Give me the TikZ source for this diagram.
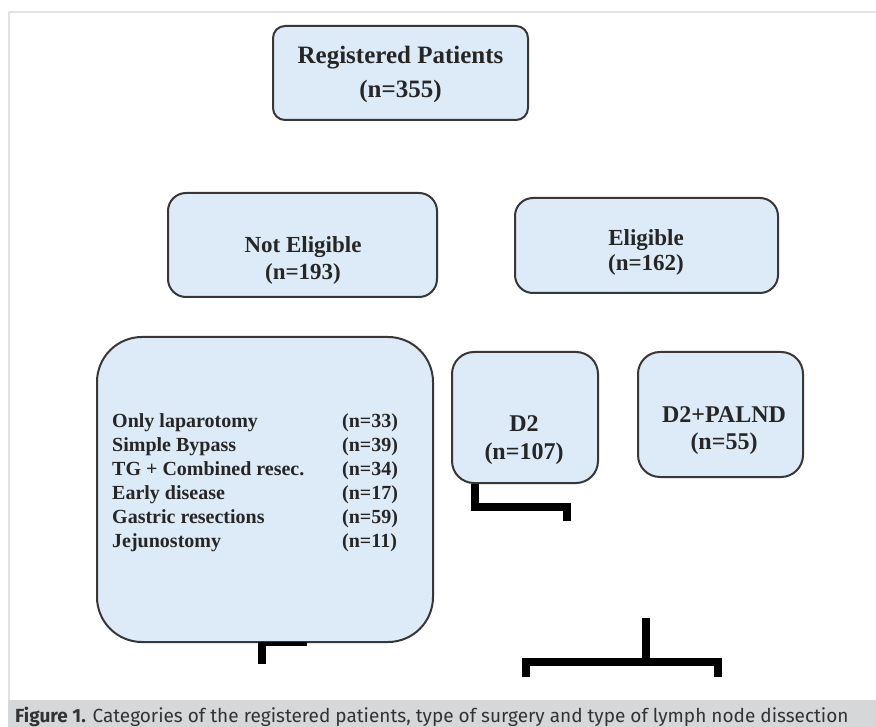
\documentclass[tikz,border=0pt]{standalone}
\usepackage{fontspec}
\setmainfont{Liberation Serif}
\newfontfamily\capfont{Fira Sans}
\usepackage{tikz}
\usetikzlibrary{positioning,calc}
\definecolor{boxblue}{RGB}{220,235,247}
\definecolor{boxline}{RGB}{55,55,55}
\definecolor{capgray}{RGB}{214,215,216}
\definecolor{framegray}{RGB}{226,226,226}

\begin{document}
\begin{tikzpicture}[x=1pt,y=-1pt,line join=round,
    box/.style={draw=boxline,line width=2pt,fill=boxblue,inner sep=0pt},
    boxtext/.style={align=center,text=black!85,font=\bfseries\fontsize{23}{27}\selectfont},
    bar/.style={line width=8pt,line cap=butt,line join=miter,black}]
      \useasboundingbox (0,0) rectangle (876,727);
      % frame and caption band
      \draw[framegray,line width=2pt] (9,700) -- (9,12) -- (876,12);
      \fill[capgray] (8,700) rectangle (876,727);
      \node[anchor=base west,inner sep=0pt,text=black!80,font=\capfont\fontsize{19}{21}\selectfont] (caption) at (15,722)
        {\textbf{Figure 1.} Categories of the registered patients, type of surgery and type of lymph node dissection};
      % boxes
      \node[box,rounded corners=12pt,minimum width=255pt,minimum height=94pt] (reg) at (400.5,73) {};
      \node[box,rounded corners=18pt,minimum width=269pt,minimum height=104pt] (noteli) at (302.5,245) {};
      \node[box,rounded corners=18pt,minimum width=263pt,minimum height=95pt] (eli) at (646.5,245.5) {};
      \node[box,rounded corners=45pt,minimum width=336pt,minimum height=305pt] (reasons) at (265,489.5) {};
      \node[box,rounded corners=22pt,minimum width=146pt,minimum height=131pt] (dtwo) at (525,417.5) {};
      \node[box,rounded corners=22pt,minimum width=165pt,minimum height=125pt] (dpal) at (720.5,414.5) {};
      % texts
      \node[boxtext,font=\bfseries\fontsize{25}{34}\selectfont] (regtxt) at (400.5,74) {Registered Patients\\(n=355)};
      \node[boxtext] (noelitxt) at (303,260) {Not Eligible\\(n=193)};
      \node[boxtext,font=\bfseries\fontsize{23}{25}\selectfont] (elitxt) at (646,252) {Eligible\\(n=162)};
      \node[boxtext,font=\bfseries\fontsize{24}{28}\selectfont] (dtwotxt) at (524,440) {D2\\(n=107)};
      \node[boxtext,font=\bfseries\fontsize{24}{27}\selectfont] (dpaltxt) at (724,431) {D2+PALND\\(n=55)};
      \node[anchor=west,inner sep=0pt,text=black!85,font=\bfseries\fontsize{20}{24}\selectfont] (list) at (112,483)
        {\begin{tabular}{@{}p{230pt}@{}l@{}}
          Only laparotomy & (n=33)\\
          Simple Bypass & (n=39)\\
          TG + Combined resec. & (n=34)\\
          Early disease & (n=17)\\
          Gastric resections & (n=59)\\
          Jejunostomy & (n=11)
        \end{tabular}};
      % connector stubs
      \coordinate (rs) at ($(reasons.south)+(-3,0)$);
      \draw[black,line width=4pt] ($(rs)+(-4,1)$) -- ($(reasons.south)+(42,1)$);
      \draw[bar] (rs) -- ++(0,21);
      \coordinate (ds) at ($(dtwo.south west)+(24,0)$);
      \draw[bar] (ds) |- ($(ds)+(92,23)$) -- ++(0,14);
      \coordinate (top) at (646,618);
      \coordinate (left) at (526,677);
      \coordinate (right) at (718,677);
      \draw[bar] (left) |- (top |- 0,662) -| (right);
      \draw[bar] (top) -- (top |- 0,662);
    \end{tikzpicture}
\end{document}
